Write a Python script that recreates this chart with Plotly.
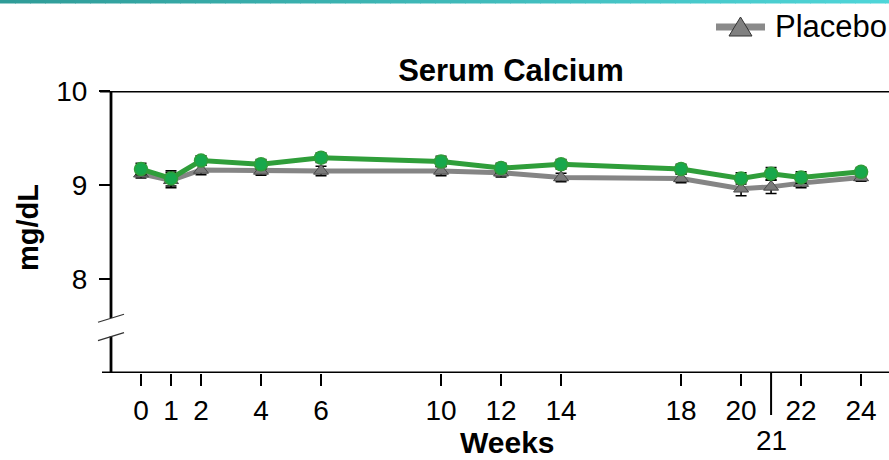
import plotly.graph_objects as go

# ---- data ----
weeks = [0, 1, 2, 4, 6, 10, 12, 14, 18, 20, 21, 22, 24]
treatment = [9.17, 9.07, 9.26, 9.22, 9.29, 9.25, 9.18, 9.22, 9.17, 9.07, 9.12, 9.08, 9.14]
treatment_err = [0.06, 0.08, 0.05, 0.05, 0.05, 0.055, 0.05, 0.05, 0.05, 0.06, 0.065, 0.06, 0.045]
placebo = [9.12, 9.05, 9.16, 9.15, 9.15, 9.15, 9.13, 9.08, 9.07, 8.96, 8.98, 9.02, 9.08]
placebo_err = [0.045, 0.08, 0.05, 0.045, 0.05, 0.05, 0.045, 0.045, 0.045, 0.075, 0.07, 0.05, 0.04]

x_tickvals = [0, 1, 2, 4, 6, 10, 12, 14, 18, 20, 22, 24]
x_ticktext = [str(v) for v in x_tickvals]
special_week = 21
y_tickvals = [8, 9, 10]
y_range = [7, 10]
y_break = [7.39, 7.585]
legend_label = "Placebo"

FONT = "Liberation Sans, Arial, sans-serif"

# plot area in pixels (for decorations only)
L, R, T, B = 111, 889, 91, 373
def px(x):
    return (x - L) / (R - L)
def py(y):
    return (B - y) / (B - T)

fig = go.Figure()

fig.add_trace(go.Scatter(
    x=weeks, y=placebo, name=legend_label, mode="lines+markers",
    line=dict(color="#858585", width=5),
    marker=dict(symbol="triangle-up", size=13, color="#7a7a7a",
                line=dict(color="#4a4a4a", width=1)),
    error_y=dict(type="data", array=placebo_err, color="black", thickness=1.6, width=5.5),
    showlegend=False,
))
fig.add_trace(go.Scatter(
    x=weeks, y=treatment, name="Treatment", mode="lines+markers",
    line=dict(color="#2f9e3a", width=5),
    marker=dict(symbol="circle", size=13, color="#17a84c",
                line=dict(color="#2f9e3a", width=1.5)),
    error_y=dict(type="data", array=treatment_err, color="black", thickness=1.6, width=5.5),
    showlegend=False,
))

shapes = []
# top gradient band
n = 60
c0 = (0x2f, 0x9c, 0x98)
c1 = (0x4f, 0xd6, 0xd9)
x0p, x1p = px(0), px(900)
for i in range(n):
    t = i / (n - 1)
    col = "rgb(%d,%d,%d)" % tuple(round(a + (b - a) * t) for a, b in zip(c0, c1))
    xa = x0p + (x1p - x0p) * i / n
    xb = x0p + (x1p - x0p) * (i + 1) / n + 0.001
    shapes.append(dict(type="rect", xref="paper", yref="paper", x0=xa, x1=xb,
                       y0=py(3.5), y1=py(-2),
                       line=dict(width=0), fillcolor=col, layer="above"))

# axis lines (y-axis with break)
axw = 2.8
shapes.append(dict(type="line", xref="paper", yref="y", x0=0, x1=0, y0=y_break[1], y1=y_range[1],
                   line=dict(color="black", width=axw)))
shapes.append(dict(type="line", xref="paper", yref="y", x0=0, x1=0, y0=y_range[0], y1=y_break[0],
                   line=dict(color="black", width=axw)))
# top border
shapes.append(dict(type="line", xref="paper", yref="y", x0=px(100), x1=1.02, y0=y_range[1], y1=y_range[1],
                   line=dict(color="black", width=axw)))
# x axis line
shapes.append(dict(type="line", xref="paper", yref="y", x0=px(102), x1=1.02, y0=y_range[0], y1=y_range[0],
                   line=dict(color="black", width=axw)))
# break slashes
for yb in y_break:
    shapes.append(dict(type="line", xref="paper", yref="y",
                       x0=px(98), x1=px(124), y0=yb - 0.045, y1=yb + 0.04,
                       line=dict(color="#333333", width=1.2)))
# long tick at week 21
shapes.append(dict(type="line", xref="x", yref="paper", x0=special_week, x1=special_week,
                   y0=0, y1=py(415), line=dict(color="black", width=2)))

# manual legend entry (line + triangle)
shapes.append(dict(type="line", xref="paper", yref="paper", x0=px(716), x1=px(765),
                   y0=py(27), y1=py(27), line=dict(color="#8a8a8a", width=7)))
shapes.append(dict(type="path", xref="paper", yref="paper",
                   path="M %f %f L %f %f L %f %f Z" % (px(729), py(36), px(752), py(36), px(740.5), py(17)),
                   fillcolor="#808080", line=dict(color="#333333", width=1)))

annotations = [
    dict(x=special_week, y=py(423), xref="x", yref="paper", text=str(special_week),
         showarrow=False, yanchor="top", xanchor="center",
         font=dict(family=FONT, size=28, color="black")),
    dict(x=px(773), y=py(27), xref="paper", yref="paper", text=legend_label,
         showarrow=False, xanchor="left", yanchor="middle",
         font=dict(family=FONT, size=31, color="black")),
    dict(x=px(507), y=py(442), xref="paper", yref="paper", text="<b>Weeks</b>",
         showarrow=False, xanchor="center", yanchor="middle",
         font=dict(family=FONT, size=30, color="black")),
    dict(x=px(28), y=py(228), xref="paper", yref="paper", text="<b>mg/dL</b>",
         showarrow=False, xanchor="center", yanchor="middle", textangle=-90,
         font=dict(family=FONT, size=29, color="black")),
]

fig.update_layout(
    width=889, height=460,
    margin=dict(l=L, r=889 - R, t=T, b=460 - B),
    paper_bgcolor="white", plot_bgcolor="white",
    font=dict(family=FONT, color="black"),
    showlegend=False,
    title=dict(text="<b>Serum Calcium</b>", x=511 / 889, xanchor="center",
               y=1 - 70 / 460, yanchor="middle", font=dict(size=31, family=FONT, color="black")),
    xaxis=dict(range=[-1, 24.93], tickvals=x_tickvals, ticktext=x_ticktext,
               ticks="outside", ticklen=12, tickwidth=2, tickcolor="black",
               showline=False, showgrid=False, zeroline=False,
               tickfont=dict(size=28, family=FONT, color="black")),
    yaxis=dict(range=y_range, tickvals=y_tickvals, ticks="outside", ticklen=11, tickwidth=2,
               tickcolor="black", showline=False, showgrid=False, zeroline=False,
               tickfont=dict(size=28, family=FONT, color="black"), ticklabelstandoff=6),
    shapes=shapes, annotations=annotations,
)

fig.write_html("out.html")
